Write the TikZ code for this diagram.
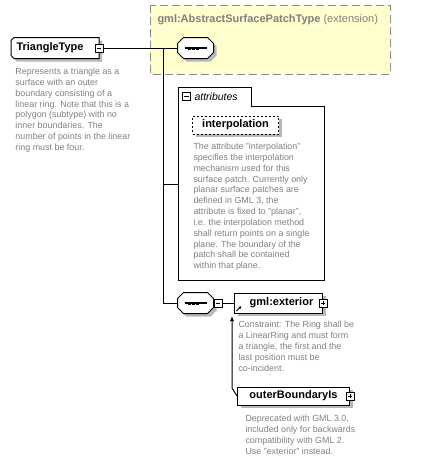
\documentclass[tikz,border=0pt]{standalone}
\usepackage{fontspec}
\setmainfont{Liberation Sans}
\usetikzlibrary{arrows.meta, positioning, shadows}
\definecolor{descgray}{RGB}{128,128,128}
\definecolor{extyellow}{RGB}{255,255,206}
\definecolor{shadowgray}{RGB}{184,184,184}
\definecolor{dashgray}{RGB}{140,140,140}

\begin{document}
\begin{tikzpicture}[
  x=1pt, y=-1pt, line width=1pt,
  boxshadow/.style={drop shadow={shadow xshift=3pt, shadow yshift=-3pt, fill=shadowgray, opacity=1}},
  elem/.style={rectangle, draw=black, fill=white, anchor=west, inner sep=0pt,
               minimum height=20pt, font=\fontsize{11}{13}\selectfont\bfseries, boxshadow},
  attrelem/.style={elem, dash pattern=on 2pt off 2pt, minimum height=18pt},
  hull/.style={rectangle, anchor=west, inner sep=0pt, minimum height=20pt,
               font=\fontsize{11}{13}\selectfont\bfseries},
  octpath/.style={insert path={([xshift=6pt]#1.north west) -- ([xshift=-6pt]#1.north east)
      -- ([yshift=-6pt]#1.north east) -- ([yshift=6pt]#1.south east) -- ([xshift=-6pt]#1.south east)
      -- ([xshift=6pt]#1.south west) -- ([yshift=6pt]#1.south west) -- ([yshift=-6pt]#1.north west) -- cycle}},
  typepath/.style={insert path={(#1.north east) -- ([xshift=3pt]#1.north west) -- ([yshift=-3pt]#1.north west)
      -- ([yshift=3pt]#1.south west) -- ([xshift=3pt]#1.south west) -- (#1.south east) -- cycle}},
  dropped/.style={fill=shadowgray, transform canvas={shift={(3pt,-3pt)}}},
  toggle/.style={rectangle, draw=black, fill=white, minimum size=8pt, inner sep=0pt, line width=0.8pt},
  minustog/.style={toggle, path picture={
      \draw[line width=0.8pt] ([xshift=1.6pt]path picture bounding box.west) -- ([xshift=-1.6pt]path picture bounding box.east);}},
  plustog/.style={toggle, path picture={
      \draw[line width=0.8pt] ([xshift=1.6pt]path picture bounding box.west) -- ([xshift=-1.6pt]path picture bounding box.east);
      \draw[line width=0.8pt] ([yshift=-1.6pt]path picture bounding box.north) -- ([yshift=1.6pt]path picture bounding box.south);}},
  desc/.style={anchor=north west, inner sep=0pt, align=left, text=descgray,
               font=\fontsize{8.9}{10.85}\selectfont},
  subst/.style={-{Latex[length=5pt, width=4pt]}, line width=1pt}
]
  \useasboundingbox (0,0) rectangle (433,463);

  % extension frame
  \draw[fill=extyellow, draw=dashgray, dash pattern=on 8pt off 4pt] (150,5) rectangle (390,74);
  \node[anchor=west, inner sep=0pt, text=descgray, font=\fontsize{11}{13}\selectfont] (ext-title) at (157,20)
    {\textbf{gml:AbstractSurfacePatchType} (extension)};

  % type
  \node[hull, minimum width=87pt, text width=77pt, align=left, inner xsep=5pt] (tri) at (11,48) {};
  \fill[dropped, typepath=tri];
  \draw[fill=white, typepath=tri];
  \node[hull, anchor=west, inner xsep=5pt] (tri-label) at (tri.west) {TriangleType};
  \node[minustog] (tri-tog) at (tri.east) {};
  \node[desc] (tri-desc) at (15,67.5) {Represents a triangle as a\\surface with an outer\\boundary consisting of a\\linear ring. Note that this is a\\polygon (subtype) with no\\inner boundaries. The\\number of points in the linear\\ring must be four.};

  % sequence
  \node[hull, anchor=center, minimum width=35pt] (seq) at (195.5,48) {};
  \fill[dropped, octpath=seq];
  \draw[fill=white, octpath=seq];
  \draw[line width=1.2pt] ([xshift=-11pt]seq.center) -- ([xshift=11pt]seq.center);
  \foreach \dx in {-6,-2,2}
    \fill ([xshift=\dx pt]seq.center) ++(-1.5,-1.5) rectangle ++(3,3);
  \coordinate (fork) at (163,48);
  \draw (tri-tog.east) -- (seq.west);

  % attributes group
  \draw[fill=white] (178,87) -- (251,87) -- (251,106) -- (324,106) -- (324,280) -- (178,280) -- cycle;
  \node[minustog] (attr-tog) at (186.5,96.5) {};
  \node[anchor=west, inner sep=0pt, font=\fontsize{10.5}{12}\selectfont\itshape] (attr-label) at (194,96.5) {attributes};
  \node[attrelem, minimum width=86pt] (interp) at (192,125) {interpolation};
  \node[desc] (interp-desc) at (193,142.5) {The attribute "interpolation"\\specifies the interpolation\\mechanism used for this\\surface patch. Currently only\\planar surface patches are\\defined in GML 3, the\\attribute is fixed to "planar",\\i.e. the interpolation method\\shall return points on a single\\plane. The boundary of the\\patch shall be contained\\within that plane.};
  \coordinate (attr-in) at (178,184);
  \draw (fork |- attr-in) -- (attr-in);

  % choice of exterior
  \node[hull, anchor=center, minimum width=35pt] (seq2) at (195.5,303) {};
  \fill[dropped, octpath=seq2];
  \draw[fill=white, octpath=seq2];
  \draw[line width=1.2pt] ([xshift=-11pt]seq2.center) -- ([xshift=11pt]seq2.center);
  \foreach \dx in {-6,-2,2}
    \fill ([xshift=\dx pt]seq2.center) ++(-1.5,-1.5) rectangle ++(3,3);
  \node[minustog] (seq2-tog) at (218,303) {};
  \draw (fork) |- (seq2.west);

  \node[elem, minimum width=88pt] (ext) at (234,303) {\hspace*{6pt}gml:exterior};
  \node[plustog] (ext-tog) at (ext.east) {};
  \draw (seq2-tog.east) -- (ext.west);
  \draw[-{Latex[length=3pt, width=3pt]}, line width=0.9pt] ([shift={(2.5,-2.5)}]ext.south west) -- ++(5,-5);
  \node[desc] (ext-desc) at (238,321) {Constraint: The Ring shall be\\a LinearRing and must form\\a triangle, the first and the\\last position must be\\co-incident.};

  \node[elem, minimum width=112pt, minimum height=18pt] (obi) at (237,396) {outerBoundaryIs};
  \node[plustog] (obi-tog) at (obi.east) {};
  \node[desc] (obi-desc) at (245,415) {Deprecated with GML 3.0,\\included only for backwards\\compatibility with GML 2.\\Use "exterior" instead.};
  \coordinate (ext-in) at (232,316);
  \draw[subst] (obi.west) -- ++(-5,-8) -- (ext-in);
\end{tikzpicture}
\end{document}
